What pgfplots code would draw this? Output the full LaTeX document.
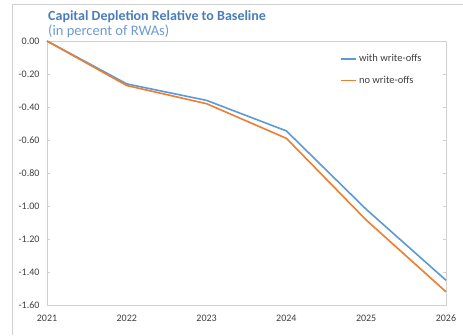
\documentclass[border=0pt]{standalone}
\usepackage{pgfplots}
\pgfplotsset{compat=1.18}
\usepackage{fontspec}
\setmainfont{Carlito}
\definecolor{lineblue}{HTML}{5B9BD5}
\definecolor{lineorange}{HTML}{ED7D31}
\definecolor{tblue}{HTML}{4A7EBB}
\definecolor{stblue}{HTML}{6E9BD0}
\definecolor{txtgray}{HTML}{404040}
\definecolor{framegray}{HTML}{D0D0D0}
\begin{document}
\begin{tikzpicture}[x=1pt,y=1pt]
\useasboundingbox (0,0) rectangle (463,335);
\fill[white] (0,0) rectangle (463,335);
\draw[framegray, line width=0.8pt] (12,0) -- (12,331) -- (470,331);
\node[anchor=base west, font=\fontsize{14}{16}\selectfont\bfseries, text=tblue, inner sep=0] at (48,314) {Capital Depletion Relative to Baseline};
\node[anchor=base west, font=\fontsize{14.5}{16}\selectfont, text=stblue, inner sep=0] at (48,299) {(in percent of RWAs)};
\begin{axis}[
  at={(47pt,30pt)}, anchor=south west,
  width=399pt, height=264pt, scale only axis,
  xmin=2021, xmax=2026, ymin=-1.6, ymax=0,
  xtick={2021,...,2026},
  xticklabel style={/pgf/number format/1000 sep={}, /tikz/yshift=-6pt},
  ytick={-1.6,-1.4,...,0},
  yticklabel style={/tikz/xshift=-4pt, /pgf/number format/fixed, /pgf/number format/fixed zerofill, /pgf/number format/precision=2},
  /pgf/number format/assume math mode=true,
  ticklabel style={font=\fontsize{10}{11}\selectfont, text=txtgray},
  axis line style={draw=framegray, line width=0.8pt},
  tick style={draw=framegray, line width=0.8pt},
  major tick length=3pt,
  xtick style={draw=none},
  legend style={draw=none, fill=none, at={(0.735,0.965)}, anchor=north west,
    font=\fontsize{10.5}{12}\selectfont\color{txtgray}, inner xsep=0pt, row sep=9pt},
  legend cell align=left,
  legend image code/.code={\draw[#1] (0pt,0pt) -- (15pt,0pt);},
  clip=false,
]
\addplot[draw=lineblue, line width=1.6pt, forget plot] coordinates {(2021,0) (2022,-0.26) (2023,-0.36) (2024,-0.545) (2025,-1.02) (2026,-1.45)};
\addplot[draw=lineorange, line width=1.6pt, forget plot] coordinates {(2021,0) (2022,-0.27) (2023,-0.38) (2024,-0.59) (2025,-1.085) (2026,-1.52)};
\addlegendimage{draw=lineblue, line width=1.6pt}
\addlegendentry{with write-offs}
\addlegendimage{draw=lineorange, line width=1.6pt}
\addlegendentry{no write-offs}
\end{axis}
\end{tikzpicture}
\end{document}
